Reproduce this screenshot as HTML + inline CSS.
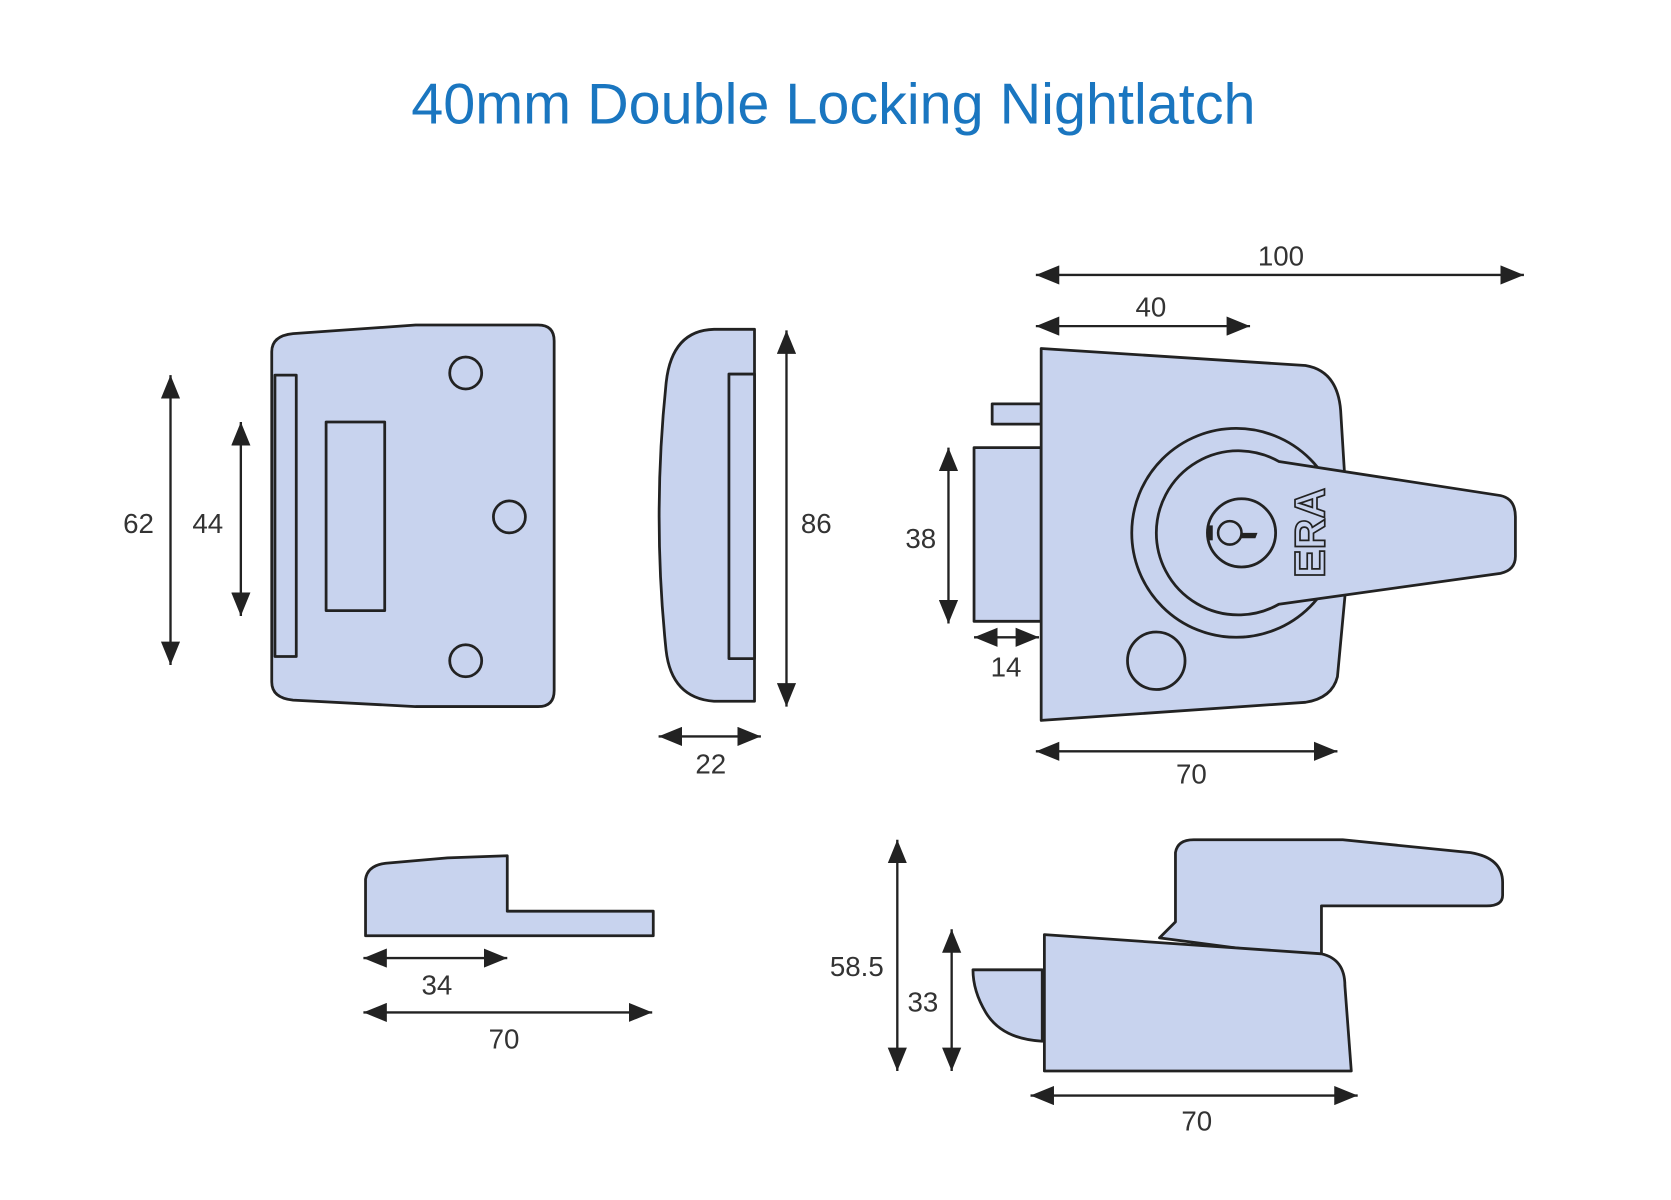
<!DOCTYPE html>
<html><head><meta charset="utf-8"><style>
html,body{margin:0;padding:0;background:#fff;}
svg{display:block;}
text{font-family:"Liberation Sans",sans-serif;}
.d{font-size:26px;fill:#333;text-anchor:middle;}
.s{fill:#c8d3ee;stroke:#222;stroke-width:2.6;stroke-linejoin:round;}
.a{stroke:#222;stroke-width:2.2;fill:none;marker-start:url(#ar);marker-end:url(#ar);}
</style></head><body>
<svg width="1671" height="1200" viewBox="0 0 1568 1126" preserveAspectRatio="none" xmlns="http://www.w3.org/2000/svg">
<defs>
<marker id="ar" markerUnits="userSpaceOnUse" markerWidth="24" markerHeight="18" refX="22" refY="9" orient="auto-start-reverse">
<path d="M0,0 L22,9 L0,18 Z" fill="#222"/>
</marker>
</defs>
<text x="782" y="116" font-size="54" fill="#1a76c0" text-anchor="middle">40mm Double Locking Nightlatch</text>

<!-- front view -->
<path class="s" d="M255,330 Q255,315 275,313 L390,305 L505,305 Q520,305 520,320 L520,648 Q520,663 505,663 L390,663 L275,657 Q255,655 255,640 Z"/>
<rect class="s" x="258" y="352" width="20" height="264"/>
<rect class="s" x="306" y="396" width="55" height="177"/>
<circle class="s" cx="437" cy="350" r="15"/>
<circle class="s" cx="478" cy="485" r="15"/>
<circle class="s" cx="437" cy="620" r="15"/>
<line class="a" x1="160" y1="352" x2="160" y2="624"/>
<text class="d" x="130" y="500">62</text>
<line class="a" x1="226" y1="396" x2="226" y2="578"/>
<text class="d" x="195" y="500">44</text>

<!-- side view -->
<path class="s" d="M708,309 L670,309 Q630,310 625,360 Q612,485 625,610 Q630,655 670,658 L708,658 Z"/>
<rect class="s" x="684" y="351" width="24" height="267"/>
<line class="a" x1="738" y1="310" x2="738" y2="663"/>
<text class="d" x="766" y="500">86</text>
<line class="a" x1="618" y1="691" x2="714" y2="691"/>
<text class="d" x="667" y="726">22</text>

<!-- right view -->
<rect class="s" x="931" y="379" width="46" height="19"/>
<rect class="s" x="914" y="420" width="63" height="163"/>
<path class="s" d="M977,327 L1225,343 Q1255,348 1258,385 L1262,450 L1262,560 L1255,635 Q1250,655 1225,659 L977,676 Z"/>
<circle class="s" cx="1160" cy="500" r="98"/>
<path class="s" d="M1200,433 L1408,465 Q1422,468 1422,485 L1422,522 Q1422,535 1408,538 L1200,567 A77,77 0 1 1 1200,433 Z"/>
<circle class="s" cx="1165" cy="500" r="32"/>
<circle fill="none" stroke="#222" stroke-width="2.4" cx="1154" cy="500" r="11"/>
<path d="M1165,500 L1180,500 L1178,505 L1163,505 Z" fill="#222"/>
<rect x="1133" y="493" width="5" height="14" fill="#222"/>
<text x="0" y="0" transform="translate(1243,500) rotate(-90)" font-family="Liberation Serif,serif" font-weight="bold" font-size="40" fill="#c8d3ee" stroke="#222" stroke-width="1.6" text-anchor="middle">ERA</text>
<circle class="s" cx="1085" cy="620" r="27"/>
<line class="a" x1="972" y1="258" x2="1430" y2="258"/>
<text class="d" x="1202" y="249">100</text>
<line class="a" x1="972" y1="306" x2="1173" y2="306"/>
<text class="d" x="1080" y="297">40</text>
<line class="a" x1="890" y1="420" x2="890" y2="585"/>
<text class="d" x="864" y="514">38</text>
<line class="a" x1="914" y1="598" x2="975" y2="598"/>
<text class="d" x="944" y="635">14</text>
<line class="a" x1="972" y1="705" x2="1255" y2="705"/>
<text class="d" x="1118" y="735">70</text>

<!-- bottom left -->
<path class="s" d="M343,878 L343,825 Q345,812 362,810 L420,805 L476,803 L476,855 L613,855 L613,878 Z"/>
<line class="a" x1="341" y1="899" x2="476" y2="899"/>
<text class="d" x="410" y="933">34</text>
<line class="a" x1="341" y1="950" x2="612" y2="950"/>
<text class="d" x="473" y="984">70</text>

<!-- bottom right -->
<path class="s" d="M913,910 L978,910 L978,977 Q940,975 925,950 Q913,930 913,910 Z"/>
<path class="s" d="M1088,880 L1103,865 L1103,800 Q1105,788 1120,788 L1260,788 L1380,800 Q1410,805 1410,828 L1410,840 Q1410,850 1395,850 L1240,850 L1240,900 Z"/>
<path class="s" d="M980,877 L1240,895 Q1262,900 1262,925 L1268,1005 L980,1005 Z"/>
<line class="a" x1="842" y1="788" x2="842" y2="1005"/>
<text class="d" x="804" y="916">58.5</text>
<line class="a" x1="893" y1="872" x2="893" y2="1005"/>
<text class="d" x="866" y="949">33</text>
<line class="a" x1="967" y1="1028" x2="1274" y2="1028"/>
<text class="d" x="1123" y="1061">70</text>
</svg>
</body></html>
